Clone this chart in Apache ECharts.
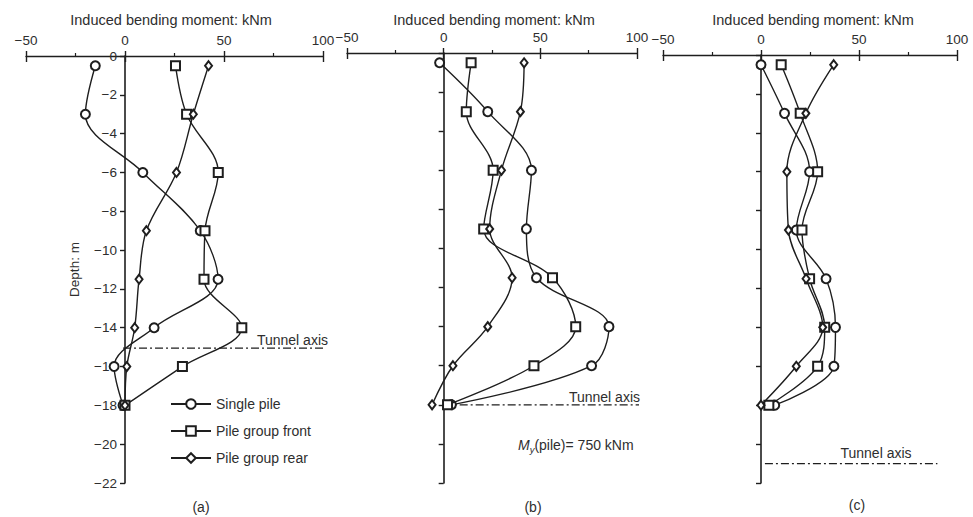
<!DOCTYPE html>
<html><head><meta charset="utf-8">
<script src="https://cdn.jsdelivr.net/npm/echarts@6/dist/echarts.min.js"></script>
<style>html,body{margin:0;padding:0;background:#fff}#c{width:973px;height:517px}</style>
</head><body><div id="c"></div>
<script>
// Depth of measurement points (m)
const depths = [-0.5, -3, -6, -9, -11.5, -14, -16, -18];
// Panel (a)
const aSingle = [-15, -20, 9, 38, 47, 14.7, -5.5, -1];
const aFront  = [25.5, 31.1, 47.1, 40.4, 39.9, 59, 29, 0];
const aRear   = [42.2, 34.5, 26, 10.8, 7.1, 4.9, 0.9, 0];
// Panel (b)
const bSingle = [-2.1, 22.8, 45.4, 42.8, 48, 85.5, 76.5, 4];
const bFront  = [14.2, 11.7, 25.6, 20.7, 56.3, 68.3, 46.7, 2];
const bRear   = [41.6, 39.7, 29.9, 23.8, 35.4, 22.8, 4.8, -6];
// Panel (c)
const cSingle = [0, 12, 24.8, 18, 33.2, 38, 37.2, 7];
const cFront  = [10.3, 20, 28.9, 20.9, 24.8, 32.5, 28.9, 4];
const cRear   = [37.1, 22.9, 13.2, 14, 23, 31.5, 18, 0];
// Tunnel axis lines: depth, start and end moment values
const tunnelDepth = [-15.05, -18, -21];
const tunnelFrom  = [-1, 0, 2];
const tunnelTo    = [102.5, 103, 90];
// Axis ranges
const xMin = -50, xMax = 100, xStep = 50;
const yMin = -22, yMax = 0, yStep = 2;
const seriesNames = ['Single pile', 'Pile group front', 'Pile group rear'];
const panelLabels = ['(a)', '(b)', '(c)'];
const panels = [[aSingle, aFront, aRear], [bSingle, bFront, bRear], [cSingle, cFront, cRear]];

const INK = '#1e1e1e', TXT = '#2e2e2e';
const FONT = '"Liberation Sans", Arial, sans-serif';
const minus = v => String(v).replace('-', '\u2212');
const grids = [
  {left: 26, width: 297, top: 56, height: 427},
  {left: 347, width: 290, top: 53, height: 430},
  {left: 663, width: 294, top: 55, height: 428}
].map(g => Object.assign(g, {outerBoundsMode: 'none', containLabel: false}));
const symbols = [
  {symbol: 'emptyCircle', symbolSize: 9},
  {symbol: 'emptyRect', symbolSize: 9},
  {symbol: 'emptyDiamond', symbolSize: [7, 9]}
];

const xAxis = [], yAxis = [], series = [];
grids.forEach((g, i) => {
  xAxis.push({
    gridIndex: i, type: 'value', position: 'top', min: xMin, max: xMax, interval: xStep,
    axisLine: {onZero: false, lineStyle: {color: INK, width: 1.4}},
    axisTick: {length: 5, lineStyle: {color: INK, width: 1.4}},
    minorTick: {show: true, splitNumber: 2, length: 3, lineStyle: {color: INK, width: 1.2}},
    axisLabel: {margin: 9, fontSize: 13.5, color: TXT, fontFamily: FONT, formatter: minus},
    splitLine: {show: false}
  });
  xAxis.push({
    gridIndex: i, type: 'value', position: 'top', min: xMin, max: xMax, interval: xStep,
    axisLine: {show: false},
    axisTick: {inside: true, length: 6, lineStyle: {color: INK, width: 1.4}},
    axisLabel: {show: false}, splitLine: {show: false}
  });
  // place the depth axis at moment = 0
  const zeroOffset = -g.width * (0 - xMin) / (xMax - xMin);
  yAxis.push({
    gridIndex: i, type: 'value', position: 'left', offset: zeroOffset,
    min: yMin, max: yMax, interval: yStep,
    axisLine: {onZero: false, lineStyle: {color: INK, width: 1.6}},
    axisTick: {length: 5, lineStyle: {color: INK, width: 1.4}},
    axisLabel: {show: i === 0, margin: 8, fontSize: 13.5, color: TXT, fontFamily: FONT, formatter: minus},
    splitLine: {show: false},
    name: i === 0 ? 'Depth: m' : '', nameLocation: 'middle', nameRotate: 90, nameGap: 44,
    nameMoveOverlap: false,
    nameTextStyle: {fontSize: 13.5, color: TXT, fontFamily: FONT}
  });
  panels[i].forEach((vals, k) => {
    series.push({
      name: seriesNames[k], type: 'line', xAxisIndex: 2 * i, yAxisIndex: i,
      data: vals.map((v, j) => [v, depths[j]]),
      smooth: 0.35, symbol: symbols[k].symbol, symbolSize: symbols[k].symbolSize,
      lineStyle: {color: INK, width: 1.4}, itemStyle: {color: INK, borderWidth: 1.4},
      emphasis: {disabled: true}, z: 3 + k
    });
  });
  series.push({
    type: 'line', xAxisIndex: 2 * i, yAxisIndex: i, clip: false, symbol: 'none',
    data: [[tunnelFrom[i], tunnelDepth[i]], [tunnelTo[i], tunnelDepth[i]]],
    lineStyle: {color: INK, width: 1.3, type: [8, 3, 2, 3]}, emphasis: {disabled: true}, z: 2
  });
});

const txt = (x, y, text, extra) => Object.assign({
  type: 'text', x: x, y: y,
  style: Object.assign({text: text, fill: TXT, font: '14px ' + FONT}, extra || {})
});

const option = {
  backgroundColor: '#fff',
  animation: false,
  title: [
    {text: 'Induced bending moment: kNm', left: 166, top: 7, textAlign: 'center'},
    {text: 'Induced bending moment: kNm', left: 489, top: 7, textAlign: 'center'},
    {text: 'Induced bending moment: kNm', left: 808, top: 7, textAlign: 'center'}
  ].map(t => Object.assign(t, {textStyle: {fontSize: 14.5, fontWeight: 'normal', color: TXT, fontFamily: FONT}})),
  grid: grids,
  xAxis: xAxis,
  yAxis: yAxis,
  legend: {
    data: seriesNames, orient: 'vertical', left: 165, top: 392,
    itemWidth: 40, itemHeight: 12, itemGap: 13,
    textStyle: {fontSize: 14, color: TXT, fontFamily: FONT},
    selectedMode: false
  },
  series: series,
  graphic: [
    txt(328, 340, 'Tunnel axis', {align: 'right', verticalAlign: 'middle'}),
    txt(640, 397, 'Tunnel axis', {align: 'right', verticalAlign: 'middle'}),
    txt(876, 453, 'Tunnel axis', {align: 'center', verticalAlign: 'middle'}),
    {
      type: 'text', x: 518, y: 445,
      style: {
        text: '{m|M}{s|y}{n|(pile)= 750 kNm}', verticalAlign: 'middle', fill: TXT,
        rich: {
          m: {fontSize: 14, fontStyle: 'italic', fontFamily: FONT, fill: TXT, lineHeight: 18},
          s: {fontSize: 9.5, fontStyle: 'italic', fontFamily: FONT, fill: TXT, lineHeight: 18, verticalAlign: 'bottom'},
          n: {fontSize: 14, fontFamily: FONT, fill: TXT, lineHeight: 18}
        }
      }
    },
    txt(201, 507, panelLabels[0], {align: 'center', verticalAlign: 'middle', font: '14px ' + FONT}),
    txt(533, 507, panelLabels[1], {align: 'center', verticalAlign: 'middle', font: '14px ' + FONT}),
    txt(857, 505, panelLabels[2], {align: 'center', verticalAlign: 'middle', font: '14px ' + FONT})
  ]
};
const chart = echarts.init(document.getElementById('c'), null, {renderer: 'svg'});
chart.setOption(option);
</script>
</body></html>
